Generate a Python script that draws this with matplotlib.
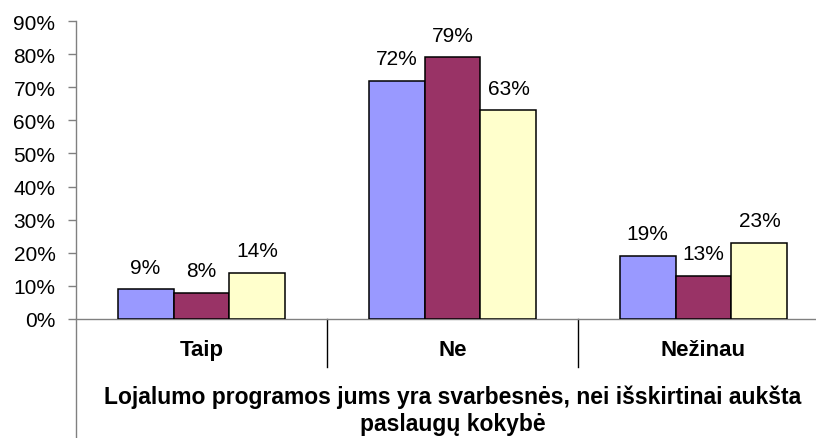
import matplotlib.pyplot as plt
from matplotlib.lines import Line2D
import matplotlib.transforms as mtransforms
import numpy as np

plt.rcParams['font.family'] = ['Liberation Sans', 'DejaVu Sans']

categories = ['Taip', 'Ne', 'Nežinau']
series_a = [9, 72, 19]
series_b = [8, 79, 13]
series_c = [14, 63, 23]
yticks = [0, 10, 20, 30, 40, 50, 60, 70, 80, 90]
title = 'Lojalumo programos jums yra svarbesnės, nei išskirtinai aukšta\npaslaugų kokybė'

colors = ['#9999FF', '#993366', '#FFFFCC']

W, H = 816, 439
fig = plt.figure(figsize=(W / 100, H / 100), dpi=100)
# axes runs off the right edge of the figure
ax = fig.add_axes([76 / W, (H - 320) / H, (829 - 76) / W, (320 - 22) / H])

x = np.arange(len(categories))
bw = 0.223
for i, (vals, col) in enumerate(zip([series_a, series_b, series_c], colors)):
    pos = x + (i - 1) * bw
    ax.bar(pos, vals, width=bw, color=col, edgecolor='black', linewidth=1.1, zorder=3)
    for p, v in zip(pos, vals):
        ax.annotate(f'{v}%', (p, v), xytext=(0, 12), textcoords='offset points',
                    ha='center', va='baseline', fontsize=15)

ax.set_xlim(-0.5, 2.5)
ax.set_ylim(0, 90)
ax.set_yticks(yticks)
ax.set_yticklabels([f'{t}%' for t in yticks], fontsize=15)
ax.tick_params(axis='y', length=5.8, width=1, color='#808080', pad=9)
ax.set_xticks([])

for s in ['top', 'right']:
    ax.spines[s].set_visible(False)
ax.spines['left'].set_visible(False)
ax.spines['bottom'].set_color('#808080')
ax.spines['bottom'].set_linewidth(1)

# y axis line continues down to the bottom of the figure
xa = 76 / W
fig.add_artist(Line2D([xa, xa], [0, (H - 22) / H], color='#808080', lw=1,
                      transform=fig.transFigure))

# category separators below the axis
trans = mtransforms.blended_transform_factory(ax.transData, ax.transAxes)
sep = 48 / 298
for b in [0.5, 1.5]:
    ax.plot([b, b], [0, -sep], color='black', lw=1, transform=trans, clip_on=False)

for xi, c in zip(x, categories):
    ax.text(xi, -31 / 298, c, transform=trans, ha='center', va='center',
            fontsize=16, fontweight='bold')

fig.text(452.5 / W, (H - 411) / H, title, ha='center', va='center',
         fontsize=16.5, fontweight='bold', linespacing=1.2)

fig.savefig('out.png', dpi=100)
